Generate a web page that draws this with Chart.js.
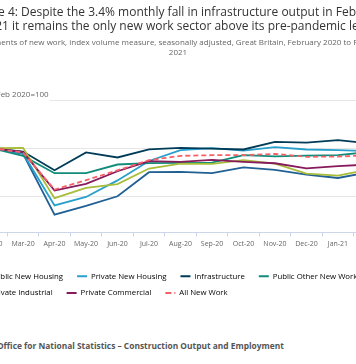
<!DOCTYPE html>
<html><head><meta charset="utf-8">
<script src="https://cdn.jsdelivr.net/npm/chart.js@4"></script>
<style>
html,body{margin:0;padding:0;background:#fff;overflow:hidden}
#page{position:relative;width:356px;height:364px;overflow:hidden;background:#fff}
#wrap{position:absolute;left:-60px;top:0;width:460px;height:310px}
#src{position:absolute;left:-36px;top:340px;white-space:nowrap;font:bold 8.4px "Open Sans",sans-serif;color:#555}
</style></head><body>
<div id="page">
<div id="wrap"><canvas id="c"></canvas></div>
<div id="src">Source: Office for National Statistics – Construction Output and Employment</div>
</div>
<script>
const months = ['Feb-20','Mar-20','Apr-20','May-20','Jun-20','Jul-20','Aug-20','Sep-20','Oct-20','Nov-20','Dec-20','Jan-21','Feb-21'];
const publicNewHousing  = [100, 94, 31, 40, 50, 75, 75.3, 74, 80, 77.5, 72.6, 69, 75];
const privateNewHousing = [100, 94.5, 40.6, 49.3, 66.5, 86.7, 98, 100, 97.5, 101, 98.6, 98, 97];
const infrastructure    = [100, 96.5, 77, 95.5, 90.3, 98.7, 100.3, 99.4, 98.6, 106.6, 105.7, 108.4, 105];
const publicOtherNewWork= [100, 92, 74, 74, 83, 84.5, 84.7, 85, 92.7, 91.5, 92.3, 92.7, 96];
const privateIndustrial = [100, 100.3, 48, 58.7, 62.7, 78.8, 84, 83.6, 87.5, 84, 73.6, 71.5, 78];
const privateCommercial = [100, 96, 56, 63, 76, 86.5, 85.7, 87.8, 85.8, 84.3, 79, 81.3, 83];
const allNewWork        = [100, 95.5, 57, 66.7, 77, 87.5, 92, 92.7, 92.7, 94, 91, 91.3, 92.5];
const yTickValues = [50, 100, 150];
const titleLines = ['Figure 4: Despite the 3.4% monthly fall in infrastructure output in February', '2021 it remains the only new work sector above its pre-pandemic level'];
const subtitleLines = ['Components of new work, index volume measure, seasonally adjusted, Great Britain, February 2020 to February', '2021'];
const yAxisTitle = 'Feb 2020=100';

const FONT = "'Open Sans', sans-serif";
Chart.defaults.font.family = FONT;

function ds(label, data, color, dashed, order) {
  return {label, data, borderColor: color, backgroundColor: color, borderWidth: 1.8,
    borderDash: dashed ? [5, 3] : [], pointRadius: 0, tension: 0, fill: false, order};
}

const yTitlePlugin = {
  id: 'yTitle',
  afterDraw(chart) {
    const {ctx, chartArea} = chart;
    ctx.save();
    ctx.font = "8px " + FONT;
    const x = chartArea.left + 20.7, y = chartArea.top - 5;
    const w = ctx.measureText(yAxisTitle).width;
    ctx.fillStyle = '#fff';
    ctx.fillRect(x - 1, y - 6, w + 2, 12);
    ctx.fillStyle = '#666';
    ctx.textBaseline = 'middle';
    ctx.fillText(yAxisTitle, x, y);
    ctx.restore();
  }
};

new Chart(document.getElementById('c'), {
  type: 'line',
  data: {
    labels: months,
    datasets: [
      ds('Public New Housing', publicNewHousing, '#206095', false, 0),
      ds('Private New Housing', privateNewHousing, '#27a0cc', false, -1),
      ds('Infrastructure', infrastructure, '#003c57', false, -2),
      ds('Public Other New Work', publicOtherNewWork, '#118c7b', false, -3),
      ds('Private Industrial', privateIndustrial, '#a8bd3a', false, -4),
      ds('Private Commercial', privateCommercial, '#871a5b', false, -5),
      ds('All New Work', allNewWork, '#f66068', true, -6)
    ]
  },
  options: {
    responsive: true, maintainAspectRatio: false, animation: false, devicePixelRatio: 1,
    layout: {padding: {left: 23, right: 7, top: 0, bottom: 3}},
    plugins: {
      tooltip: {enabled: false},
      title: {display: true, text: titleLines, color: '#333',
        font: {family: FONT, size: 12, weight: 'normal', lineHeight: '13.7px'},
        padding: {top: 6, bottom: 0}},
      subtitle: {display: true, text: subtitleLines, color: '#666',
        font: {family: FONT, size: 8, lineHeight: '10px'},
        padding: {top: 4.6, bottom: 42}},
      legend: {
        position: 'bottom', align: 'start',
        labels: {
          boxWidth: 15, boxHeight: 0, padding: 9, color: '#666',
          font: {family: FONT, size: 7.8},
          generateLabels(chart) {
            return chart.data.datasets.map((d, i) => ({
              text: d.label, fillStyle: 'rgba(0,0,0,0)', strokeStyle: d.borderColor,
              lineWidth: 2, lineCap: 'butt', lineJoin: 'bevel',
              lineDash: d.borderDash.length ? [0, 5, 6, 3, 1, 100] : [0, 5, 10, 100],
              hidden: !chart.isDatasetVisible(i), datasetIndex: i
            }));
          }
        }
      }
    },
    scales: {
      x: {
        offset: true,
        grid: {offset: true, drawOnChartArea: false, drawTicks: true, tickLength: 4, color: '#ccd6eb'},
        border: {color: '#ccd6eb'},
        ticks: {font: {size: 7}, color: '#666', maxRotation: 0, autoSkip: false, padding: 3},
        afterFit(s) { s.height = 31; }
      },
      y: {
        min: 12.5, max: 150, position: 'left',
        afterBuildTicks(s) { s.ticks = yTickValues.map(v => ({value: v})); },
        grid: {color: '#e6e6e6', drawTicks: false},
        border: {display: false},
        ticks: {font: {size: 7}, color: '#666', padding: 3},
        afterFit(s) { s.width = 12.8; }
      },
      yRight: {
        type: 'linear', position: 'right', display: true,
        grid: {display: false}, border: {display: false}, ticks: {display: false},
        afterFit(s) { s.width = 7.8; }
      }
    }
  },
  plugins: [yTitlePlugin]
});
</script>
</body></html>
